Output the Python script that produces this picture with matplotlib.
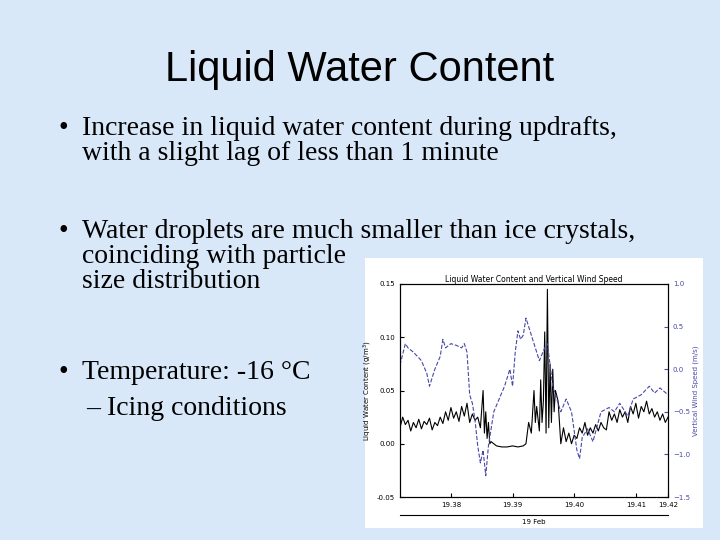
import matplotlib
matplotlib.use("Agg")
import matplotlib.pyplot as plt

# slide text
title = "Liquid Water Content"
bullets = [
    ("Increase in liquid water content during updrafts,\nwith a slight lag of less than 1 minute", 116),
    ("Water droplets are much smaller than ice crystals,\ncoinciding with particle\nsize distribution", 219),
    ("Temperature: -16 °C", 360),
]
sub_bullet = "– Icing conditions"

# chart data (x as fraction of time axis)
lwc_x = [0.00, 0.01, 0.02, 0.03, 0.04, 0.05, 0.06, 0.07, 0.08, 0.09, 0.10, 0.11, 0.12, 0.13,
         0.14, 0.15, 0.16, 0.17, 0.18, 0.19, 0.20, 0.21, 0.22, 0.23, 0.24, 0.25, 0.26, 0.27,
         0.28, 0.29, 0.30, 0.31, 0.315, 0.32, 0.325, 0.33, 0.335, 0.34, 0.36, 0.38, 0.40, 0.42,
         0.44, 0.46, 0.47, 0.48, 0.49, 0.50, 0.505, 0.51, 0.52, 0.525, 0.53, 0.535, 0.54, 0.545,
         0.55, 0.555, 0.56, 0.565, 0.57, 0.575, 0.58, 0.59, 0.60, 0.61, 0.62, 0.63, 0.64, 0.65,
         0.66, 0.67, 0.68, 0.69, 0.70, 0.71, 0.72, 0.73, 0.74, 0.75, 0.76, 0.77, 0.78, 0.79,
         0.80, 0.81, 0.82, 0.83, 0.84, 0.85, 0.86, 0.87, 0.88, 0.89, 0.90, 0.91, 0.92, 0.93,
         0.94, 0.95, 0.96, 0.97, 0.98, 0.99, 1.00]
lwc_y = [0.015, 0.025, 0.018, 0.022, 0.012, 0.020, 0.015, 0.023, 0.014, 0.021, 0.018, 0.024,
         0.013, 0.020, 0.017, 0.025, 0.019, 0.030, 0.022, 0.034, 0.024, 0.030, 0.021, 0.035,
         0.026, 0.038, 0.020, 0.028, 0.022, 0.025, 0.015, 0.050, 0.010, 0.030, 0.005, 0.020,
         0.000, 0.002, -0.002, -0.003, -0.003, -0.002, -0.003, -0.002, 0.000, 0.020, 0.010,
         0.050, 0.020, 0.035, 0.012, 0.060, 0.020, 0.040, 0.105, 0.010, 0.145, 0.015, 0.075,
         0.020, 0.070, 0.030, 0.050, 0.040, 0.000, 0.015, 0.002, 0.010, 0.000, 0.008, 0.005,
         0.015, 0.010, 0.020, 0.008, 0.015, 0.010, 0.018, 0.012, 0.020, 0.015, 0.013, 0.030,
         0.022, 0.028, 0.020, 0.032, 0.025, 0.030, 0.020, 0.035, 0.028, 0.038, 0.024, 0.035,
         0.030, 0.040, 0.028, 0.033, 0.025, 0.030, 0.022, 0.028, 0.020, 0.025]
wind_x = [0.00, 0.02, 0.03, 0.05, 0.08, 0.10, 0.11, 0.13, 0.15, 0.16, 0.17, 0.19, 0.21, 0.23,
          0.24, 0.25, 0.26, 0.27, 0.28, 0.29, 0.30, 0.31, 0.32, 0.33, 0.34, 0.35, 0.37, 0.39,
          0.41, 0.42, 0.43, 0.44, 0.45, 0.46, 0.47, 0.48, 0.50, 0.52, 0.54, 0.55, 0.57, 0.59,
          0.60, 0.62, 0.64, 0.66, 0.67, 0.68, 0.70, 0.72, 0.75, 0.78, 0.80, 0.82, 0.85, 0.87,
          0.90, 0.93, 0.95, 0.97, 1.00]
wind_y = [0.05, 0.30, 0.25, 0.20, 0.10, -0.05, -0.20, 0.00, 0.15, 0.35, 0.25, 0.30, 0.28,
          0.25, 0.30, 0.20, -0.30, -0.40, -0.60, -0.90, -1.10, -0.95, -1.25, -0.90, -0.70,
          -0.50, -0.35, -0.20, 0.00, -0.20, 0.20, 0.45, 0.35, 0.40, 0.60, 0.50, 0.30, 0.10,
          0.25, 0.30, -0.20, -0.40, -0.50, -0.35, -0.50, -0.95, -1.05, -0.80, -0.70, -0.85,
          -0.50, -0.45, -0.50, -0.40, -0.55, -0.35, -0.30, -0.20, -0.28, -0.22, -0.30]
tick_pos = [0.19, 0.42, 0.65, 0.88, 1.00]
tick_labels = ["19.38", "19.39", "19.40", "19.41", "19.42"]

fig = plt.figure(figsize=(7.2, 5.4), dpi=100)
fig.patch.set_facecolor("#d9e8f8")

fig.text(0.5, 1 - 70 / 540, title, ha="center", va="center", fontsize=30,
         family="Liberation Sans")
for text, y in bullets:
    fig.text(58 / 720, 1 - y / 540, "•", ha="left", va="top", fontsize=20,
             family="Liberation Serif")
    fig.text(82 / 720, 1 - y / 540, text, ha="left", va="top", fontsize=20,
             family="Liberation Serif", linespacing=1.0)
fig.text(86 / 720, 1 - 396 / 540, sub_bullet, ha="left", va="top", fontsize=20,
         family="Liberation Serif")

# white chart box
box = fig.add_axes([365 / 720, 1 - 528 / 540, 338 / 720, 270 / 540])
box.set_facecolor("white")
box.set_xticks([])
box.set_yticks([])
for s in box.spines.values():
    s.set_visible(False)

ax = fig.add_axes([400 / 720, 1 - 497 / 540, 268 / 720, 213 / 540])
ax.plot(lwc_x, lwc_y, color="black", lw=0.8)
ax.set_xlim(0, 1)
ax.set_ylim(-0.05, 0.15)
ax.set_yticks([-0.05, 0.0, 0.05, 0.10, 0.15])
ax.set_yticklabels(["-0.05", "0.00", "0.05", "0.10", "0.15"])
ax.set_xticks(tick_pos)
ax.set_xticklabels(tick_labels)
ax.tick_params(labelsize=5, length=3, direction="in")
ax.set_ylabel("Liquid Water Content (g/m$^3$)", fontsize=5, labelpad=2)
fig.text(534 / 720, 1 - 279 / 540, "Liquid Water Content and Vertical Wind Speed",
         ha="center", va="center", fontsize=5.5)

ax2 = ax.twinx()
ax2.plot(wind_x, wind_y, color="#4848a8", lw=0.8, ls="--")
ax2.set_ylim(-1.5, 1.0)
ax2.set_yticks([-1.5, -1.0, -0.5, 0.0, 0.5, 1.0])
ax2.tick_params(labelsize=5, length=3, direction="in", colors="#4848a8")
ax2.set_ylabel("Vertical Wind Speed (m/s)", fontsize=5, color="#4848a8", labelpad=2)

# date axis under the chart
fig.lines.append(plt.Line2D([400 / 720, 668 / 720], [1 - 515 / 540] * 2,
                            transform=fig.transFigure, color="black", lw=0.8))
fig.text(534 / 720, 1 - 522 / 540, "19 Feb", ha="center", va="center", fontsize=5)

fig.savefig("out.png", dpi=100, facecolor=fig.get_facecolor())
